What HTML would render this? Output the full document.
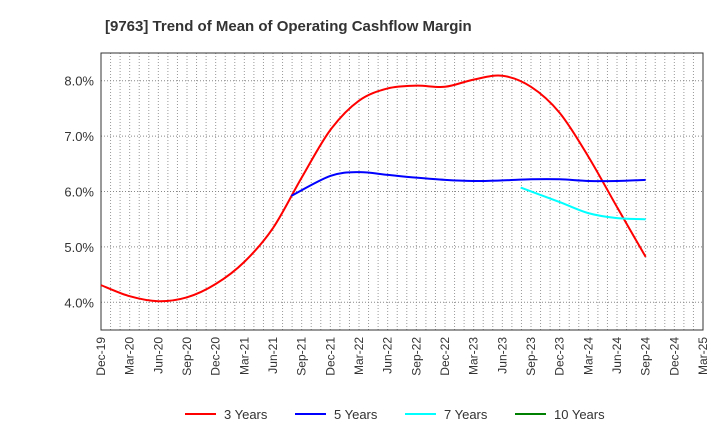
<!DOCTYPE html>
<html><head><meta charset="utf-8"><style>
body{margin:0;background:#fff;font-family:"Liberation Sans",sans-serif}
svg text{font-family:"Liberation Sans",sans-serif}
</style></head><body>
<svg width="720" height="440">
<text x="105" y="31" font-size="15" font-weight="bold" fill="#333">[9763]  Trend of Mean of Operating Cashflow Margin</text>
<g id="grid"></g><g id="axes"></g><g id="series"></g><g id="legend"></g>
</svg>
<script>
const xLabels=["Dec-19","Mar-20","Jun-20","Sep-20","Dec-20","Mar-21","Jun-21","Sep-21","Dec-21","Mar-22","Jun-22","Sep-22","Dec-22","Mar-23","Jun-23","Sep-23","Dec-23","Mar-24","Jun-24","Sep-24","Dec-24","Mar-25"];
const yTicks=[4,5,6,7,8];
const s3=[4.31,4.11,4.02,4.09,4.33,4.73,5.34,6.25,7.11,7.64,7.86,7.91,7.89,8.02,8.09,7.89,7.42,6.63,5.72,4.82];
const s5=[5.92,6.28,6.35,6.30,6.25,6.21,6.19,6.20,6.22,6.22,6.19,6.19,6.21];
const s7=[6.07,5.81,5.61,5.52,5.50];
const s10=[];
const NS="http://www.w3.org/2000/svg";
const L=101,R=703,T=53,B=330,ymin=3.5,ymax=8.5;
const xs=i=>L+(R-L)*i/(xLabels.length-1);
const ys=v=>B-(v-ymin)/(ymax-ymin)*(B-T);
function mk(tag,attrs,parent){const e=document.createElementNS(NS,tag);for(const k in attrs)e.setAttribute(k,attrs[k]);parent.appendChild(e);return e;}
const grid=document.getElementById('grid'),axes=document.getElementById('axes'),ser=document.getElementById('series'),leg=document.getElementById('legend');
for(let m=1;m<(xLabels.length-1)*3;m++){const x=L+(R-L)*m/((xLabels.length-1)*3);
const g=mk('line',{x1:x,x2:x,y1:T,y2:B,stroke:'#999','stroke-dasharray':'1,2','stroke-width':1},grid);

}
yTicks.forEach(v=>{const g=mk('line',{x1:L,x2:R,y1:ys(v),y2:ys(v),stroke:'#888','stroke-dasharray':'1,2'},grid);


const t=mk('text',{x:L-7,y:ys(v)+5,'text-anchor':'end','font-size':13,fill:'#333'},axes);t.textContent=v.toFixed(1)+'%';

});
const fr=mk('rect',{x:L,y:T,width:R-L,height:B-T,fill:'none',stroke:'#333'},axes);


xLabels.forEach((lb,i)=>{const x=xs(i);const t=mk('text',{x:0,y:0,'text-anchor':'end','font-size':12,fill:'#333',transform:`translate(${x+4},${B+7}) rotate(-90)`},axes);t.textContent=lb;

});
function path(data,start,shift){const p=data.map((v,i)=>[xs(start+i-(i===0?shift:0)),ys(v)]);if(p.length<2)return '';let d=`M${p[0][0]},${p[0][1]}`;
for(let i=0;i<p.length-1;i++){const p0=p[i-1]||p[i],p1=p[i],p2=p[i+1],p3=p[i+2]||p2;
d+=` C${p1[0]+(p2[0]-p0[0])/6},${p1[1]+(p2[1]-p0[1])/6} ${p2[0]-(p3[0]-p1[0])/6},${p2[1]-(p3[1]-p1[1])/6} ${p2[0]},${p2[1]}`;}return d;}
const defs=[[s3,0,0,'#ff0000','3 Years','line-3-years'],[s5,7,0.36,'#0000ff','5 Years','line-5-years'],[s7,15,0.36,'#00ffff','7 Years','line-7-years'],[s10,19,0,'#008000','10 Years','line-10-years']];
defs.forEach(([d,st,sh,c,n,nm],k)=>{const pe=mk('path',{d:path(d,st,sh),fill:'none',stroke:c,'stroke-width':2},ser);


const lx=185+k*110;const g=mk('g',{},leg);


mk('line',{x1:lx,x2:lx+31,y1:414,y2:414,stroke:c,'stroke-width':2},g);
const t=mk('text',{x:lx+39,y:419,'font-size':13,fill:'#333'},g);t.textContent=n;});
</script>
</body></html>
